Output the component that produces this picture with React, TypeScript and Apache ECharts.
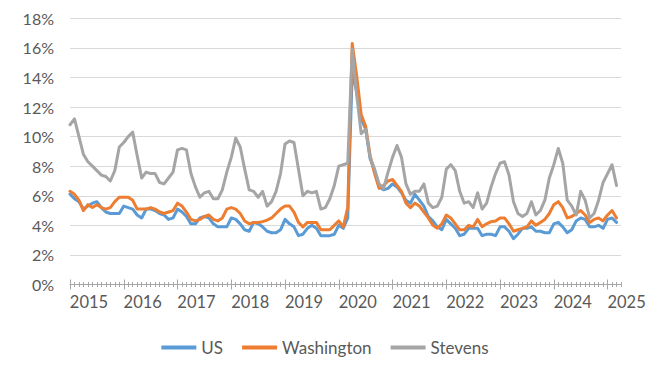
import { useEffect, useRef } from "react";
import * as echarts from "echarts";

// Monthly, Jan 2015 .. Mar 2025 (not seasonally adjusted), percent
const FIRST_YEAR = 2015;
const YEAR_LABELS = ["2015", "2016", "2017", "2018", "2019", "2020", "2021", "2022", "2023", "2024", "2025"];
const Y_TICKS = [0, 2, 4, 6, 8, 10, 12, 14, 16, 18];
const SERIES_NAMES = ["US", "Washington", "Stevens"];

const US = [
  6.1, 5.8, 5.6, 5.1, 5.3, 5.5, 5.6, 5.2, 4.9, 4.8, 4.8, 4.8,
  5.3, 5.2, 5.1, 4.7, 4.5, 5.1, 5.1, 5.0, 4.8, 4.7, 4.4, 4.5,
  5.1, 4.9, 4.6, 4.1, 4.1, 4.5, 4.6, 4.5, 4.1, 3.9, 3.9, 3.9,
  4.5, 4.4, 4.1, 3.7, 3.6, 4.2, 4.1, 3.9, 3.6, 3.5, 3.5, 3.7,
  4.4, 4.1, 3.9, 3.3, 3.4, 3.8, 4.0, 3.8, 3.3, 3.3, 3.3, 3.4,
  4.0, 3.8, 4.5, 14.4, 13.0, 11.2, 10.5, 8.5, 7.7, 6.6, 6.4, 6.5,
  6.8, 6.6, 6.2, 5.7, 5.5, 6.1, 5.7, 5.3, 4.6, 4.3, 3.9, 3.7,
  4.4, 4.1, 3.8, 3.3, 3.4, 3.8, 3.8, 3.8, 3.3, 3.4, 3.4, 3.3,
  3.9, 3.9, 3.6, 3.1, 3.4, 3.8, 3.8, 3.9, 3.6, 3.6, 3.5, 3.5,
  4.1, 4.2, 3.9, 3.5, 3.7, 4.3, 4.5, 4.4, 3.9, 3.9, 4.0, 3.8,
  4.4, 4.5, 4.2,
];

const WASHINGTON = [
  6.3, 6.1, 5.7, 5.0, 5.4, 5.2, 5.4, 5.2, 5.1, 5.2, 5.6, 5.9,
  5.9, 5.9, 5.7, 5.1, 5.1, 5.1, 5.2, 5.1, 4.9, 4.8, 4.9, 5.0,
  5.5, 5.3, 4.9, 4.4, 4.3, 4.4, 4.6, 4.7, 4.4, 4.3, 4.5, 5.1,
  5.2, 5.1, 4.8, 4.3, 4.1, 4.2, 4.2, 4.25, 4.35, 4.5, 4.8, 5.1,
  5.3, 5.3, 4.9, 4.2, 3.9, 4.2, 4.2, 4.2, 3.7, 3.7, 3.7, 4.0,
  4.3, 3.9, 5.2, 16.3, 14.1, 11.5, 10.7, 8.7, 7.5, 6.5, 6.7, 7.0,
  7.1, 6.7, 6.3, 5.5, 5.2, 5.5, 5.3, 4.9, 4.5, 4.0, 3.8, 4.1,
  4.7, 4.5, 4.1, 3.7, 3.7, 4.0, 3.9, 4.4, 3.9, 4.1, 4.25, 4.3,
  4.5, 4.5, 4.1, 3.6, 3.7, 3.8, 3.9, 4.3, 4.0, 4.2, 4.4, 4.8,
  5.4, 5.6, 5.2, 4.5, 4.6, 4.8, 5.0, 4.7, 4.2, 4.4, 4.5, 4.3,
  4.7, 5.0, 4.5,
];

const STEVENS = [
  10.8, 11.2, 10.0, 8.8, 8.3, 8.0, 7.7, 7.4, 7.3, 7.0, 7.7, 9.3,
  9.6, 10.0, 10.3, 8.7, 7.2, 7.6, 7.5, 7.5, 6.9, 6.8, 7.2, 7.6,
  9.1, 9.2, 9.1, 7.5, 6.6, 5.9, 6.2, 6.3, 5.8, 5.8, 6.4, 7.6,
  8.6, 9.9, 9.3, 7.8, 6.4, 6.3, 5.9, 6.3, 5.3, 5.6, 6.3, 7.5,
  9.5, 9.7, 9.6, 7.8, 6.0, 6.3, 6.2, 6.3, 5.1, 5.2, 5.8, 6.7,
  8.0, 8.1, 8.2, 15.9, 12.8, 10.2, 10.5, 8.6, 7.8, 6.8, 6.5, 7.6,
  8.6, 9.4, 8.6, 6.8, 6.1, 6.3, 6.3, 6.8, 5.5, 5.2, 5.3, 5.9,
  7.8, 8.1, 7.7, 6.3, 5.5, 5.6, 5.2, 6.2, 5.1, 5.5, 6.6, 7.5,
  8.2, 8.3, 7.4, 5.6, 4.8, 4.6, 4.8, 5.6, 4.7, 5.0, 5.7, 7.2,
  8.1, 9.2, 8.2, 5.7, 5.3, 4.7, 6.3, 5.7, 4.5, 4.8, 5.7, 6.9,
  7.5, 8.1, 6.7,
];

const COLORS = ["#5B9BD5", "#ED7D31", "#A5A5A5"];
const FONT = "Lato";
const TEXT_COLOR = "#595959";
const AXIS_COLOR = "#A6A6A6";

export default function App() {
  const ref = useRef<HTMLDivElement>(null);

  useEffect(() => {
    if (!ref.current) return;
    const chart = echarts.init(ref.current, null, { renderer: "svg" });

    const monthCount = US.length; // 123
    const axisMax = monthCount; // axis runs to the month after the last point
    const majorValues = YEAR_LABELS.map((_, k) => k * 12);
    const minorValues: number[] = [];
    for (let m = 0; m <= axisMax; m++) minorValues.push(m);

    const baseX = {
      type: "value" as const,
      min: 0,
      max: axisMax,
      position: "bottom" as const,
      gridIndex: 0,
      splitLine: { show: false },
    };

    const toPairs = (arr: number[]) => arr.map((v, i) => [i, v]);
    const seriesData = [US, WASHINGTON, STEVENS];

    chart.setOption({
      animation: false,
      backgroundColor: "#ffffff",
      textStyle: { fontFamily: FONT },
      grid: {
        left: 70,
        right: 29,
        top: 18.3,
        bottom: 87.5,
        containLabel: false,
        outerBoundsMode: "none",
      },
      legend: {
        data: SERIES_NAMES,
        left: "center",
        top: 334,
        icon: "rect",
        itemWidth: 35,
        itemHeight: 4,
        itemGap: 19,
        textStyle: { fontFamily: FONT, fontSize: 17, color: TEXT_COLOR },
      },
      xAxis: [
        {
          ...baseX,
          axisLine: { show: true, lineStyle: { color: AXIS_COLOR, width: 1 } },
          axisTick: {
            show: true,
            length: 5,
            inside: false,
            customValues: majorValues,
            lineStyle: { color: AXIS_COLOR, width: 1 },
          },
          axisLabel: {
            show: true,
            customValues: majorValues,
            formatter: (v: number) => String(FIRST_YEAR + Math.round(v / 12)),
            fontFamily: FONT,
            fontSize: 16.5,
            color: TEXT_COLOR,
            margin: 9,
            padding: [0, 0, 0, 38],
          },
        },
        {
          ...baseX,
          axisLine: { show: false },
          axisTick: {
            show: true,
            length: 5,
            inside: true,
            customValues: majorValues,
            lineStyle: { color: AXIS_COLOR, width: 1 },
          },
          axisLabel: { show: false },
        },
        {
          ...baseX,
          axisLine: { show: false },
          axisTick: {
            show: true,
            length: 2.5,
            inside: false,
            customValues: minorValues,
            lineStyle: { color: AXIS_COLOR, width: 1 },
          },
          axisLabel: { show: false },
        },
        {
          ...baseX,
          axisLine: { show: false },
          axisTick: {
            show: true,
            length: 2.5,
            inside: true,
            customValues: minorValues,
            lineStyle: { color: AXIS_COLOR, width: 1 },
          },
          axisLabel: { show: false },
        },
      ],
      yAxis: {
        type: "value",
        min: Y_TICKS[0],
        max: Y_TICKS[Y_TICKS.length - 1],
        interval: 2,
        axisLine: { show: false },
        axisTick: { show: false },
        axisLabel: {
          formatter: (v: number) => `${v}%`,
          fontFamily: FONT,
          fontSize: 16,
          color: TEXT_COLOR,
          margin: 16,
        },
        splitLine: { show: true, lineStyle: { color: "#D9D9D9", width: 1 } },
      },
      series: SERIES_NAMES.map((name, k) => ({
        name,
        type: "line",
        xAxisIndex: 0,
        yAxisIndex: 0,
        data: toPairs(seriesData[k]),
        showSymbol: false,
        symbol: "none",
        color: COLORS[k],
        lineStyle: { color: COLORS[k], width: 3, cap: "round", join: "round" },
        itemStyle: { color: COLORS[k] },
        z: 2 + k,
      })),
    });

    return () => chart.dispose();
  }, []);

  return (
    <div
      ref={ref}
      style={{ position: "absolute", left: 0, top: 0, width: 650, height: 372, background: "#fff" }}
    />
  );
}
